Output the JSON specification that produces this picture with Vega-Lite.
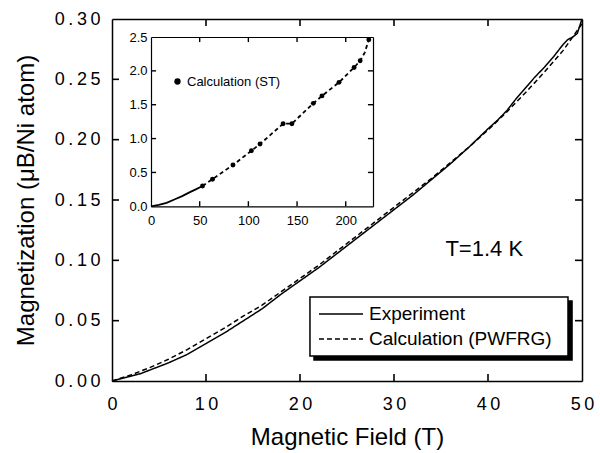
{
  "$schema": "https://vega.github.io/schema/vega-lite/v6.json",
  "width": 470,
  "height": 362,
  "autosize": "none",
  "padding": {"left": 112, "top": 19, "right": 18, "bottom": 72},
  "background": "white",
  "config": {
    "view": {"stroke": null},
    "font": "Liberation Sans",
    "axis": {
      "grid": false,
      "ticks": false,
      "domainColor": "black",
      "labelColor": "black",
      "titleColor": "black",
      "domainWidth": 1.5,
      "labelFont": "Liberation Sans",
      "titleFont": "Liberation Sans",
      "titleFontWeight": "normal",
      "labelFlush": false,
      "labelOverlap": false
    }
  },
  "datasets": {
    "main": [
      {"T": 0, "M": 0, "series": "Experiment"},
      {"T": 1, "M": 0.002, "series": "Experiment"},
      {"T": 2, "M": 0.004, "series": "Experiment"},
      {"T": 3, "M": 0.006, "series": "Experiment"},
      {"T": 4, "M": 0.009, "series": "Experiment"},
      {"T": 5, "M": 0.012, "series": "Experiment"},
      {"T": 6, "M": 0.015, "series": "Experiment"},
      {"T": 8, "M": 0.022, "series": "Experiment"},
      {"T": 10, "M": 0.031, "series": "Experiment"},
      {"T": 12, "M": 0.040, "series": "Experiment"},
      {"T": 14, "M": 0.050, "series": "Experiment"},
      {"T": 16, "M": 0.060, "series": "Experiment"},
      {"T": 18, "M": 0.072, "series": "Experiment"},
      {"T": 20, "M": 0.083, "series": "Experiment"},
      {"T": 22, "M": 0.094, "series": "Experiment"},
      {"T": 24, "M": 0.106, "series": "Experiment"},
      {"T": 26, "M": 0.118, "series": "Experiment"},
      {"T": 28, "M": 0.130, "series": "Experiment"},
      {"T": 30, "M": 0.142, "series": "Experiment"},
      {"T": 32, "M": 0.154, "series": "Experiment"},
      {"T": 34, "M": 0.167, "series": "Experiment"},
      {"T": 36, "M": 0.180, "series": "Experiment"},
      {"T": 38, "M": 0.194, "series": "Experiment"},
      {"T": 40, "M": 0.209, "series": "Experiment"},
      {"T": 41, "M": 0.216, "series": "Experiment"},
      {"T": 42, "M": 0.224, "series": "Experiment"},
      {"T": 43, "M": 0.234, "series": "Experiment"},
      {"T": 44, "M": 0.243, "series": "Experiment"},
      {"T": 45, "M": 0.252, "series": "Experiment"},
      {"T": 46, "M": 0.260, "series": "Experiment"},
      {"T": 47, "M": 0.269, "series": "Experiment"},
      {"T": 48, "M": 0.279, "series": "Experiment"},
      {"T": 48.5, "M": 0.283, "series": "Experiment"},
      {"T": 49, "M": 0.285, "series": "Experiment"},
      {"T": 49.5, "M": 0.288, "series": "Experiment"},
      {"T": 50, "M": 0.300, "series": "Experiment"},
      {"T": 0, "M": 0, "series": "Calculation (PWFRG)"},
      {"T": 2, "M": 0.005, "series": "Calculation (PWFRG)"},
      {"T": 4, "M": 0.011, "series": "Calculation (PWFRG)"},
      {"T": 6, "M": 0.018, "series": "Calculation (PWFRG)"},
      {"T": 8, "M": 0.026, "series": "Calculation (PWFRG)"},
      {"T": 10, "M": 0.035, "series": "Calculation (PWFRG)"},
      {"T": 12, "M": 0.044, "series": "Calculation (PWFRG)"},
      {"T": 14, "M": 0.054, "series": "Calculation (PWFRG)"},
      {"T": 16, "M": 0.063, "series": "Calculation (PWFRG)"},
      {"T": 18, "M": 0.074, "series": "Calculation (PWFRG)"},
      {"T": 20, "M": 0.085, "series": "Calculation (PWFRG)"},
      {"T": 22, "M": 0.096, "series": "Calculation (PWFRG)"},
      {"T": 24, "M": 0.108, "series": "Calculation (PWFRG)"},
      {"T": 26, "M": 0.120, "series": "Calculation (PWFRG)"},
      {"T": 28, "M": 0.132, "series": "Calculation (PWFRG)"},
      {"T": 30, "M": 0.144, "series": "Calculation (PWFRG)"},
      {"T": 32, "M": 0.156, "series": "Calculation (PWFRG)"},
      {"T": 34, "M": 0.168, "series": "Calculation (PWFRG)"},
      {"T": 36, "M": 0.181, "series": "Calculation (PWFRG)"},
      {"T": 38, "M": 0.194, "series": "Calculation (PWFRG)"},
      {"T": 40, "M": 0.208, "series": "Calculation (PWFRG)"},
      {"T": 42, "M": 0.223, "series": "Calculation (PWFRG)"},
      {"T": 44, "M": 0.239, "series": "Calculation (PWFRG)"},
      {"T": 46, "M": 0.256, "series": "Calculation (PWFRG)"},
      {"T": 48, "M": 0.274, "series": "Calculation (PWFRG)"},
      {"T": 50, "M": 0.296, "series": "Calculation (PWFRG)"}
    ],
    "boxes": [
      {"T1": 21.49, "T2": 48.94, "M1": 0.0663, "M2": 0.0174, "kind": "shadow"},
      {"T1": 21.06, "T2": 48.51, "M1": 0.0696, "M2": 0.0207, "kind": "box"}
    ],
    "mainTicks": [
      {"T1": 10, "T2": 10, "M1": 0, "M2": 0.0058},
      {"T1": 20, "T2": 20, "M1": 0, "M2": 0.0058},
      {"T1": 30, "T2": 30, "M1": 0, "M2": 0.0058},
      {"T1": 40, "T2": 40, "M1": 0, "M2": 0.0058},
      {"T1": 10, "T2": 10, "M1": 0.3, "M2": 0.2942},
      {"T1": 20, "T2": 20, "M1": 0.3, "M2": 0.2942},
      {"T1": 30, "T2": 30, "M1": 0.3, "M2": 0.2942},
      {"T1": 40, "T2": 40, "M1": 0.3, "M2": 0.2942},
      {"T1": 0, "T2": 0.745, "M1": 0.05, "M2": 0.05},
      {"T1": 0, "T2": 0.745, "M1": 0.1, "M2": 0.1},
      {"T1": 0, "T2": 0.745, "M1": 0.15, "M2": 0.15},
      {"T1": 0, "T2": 0.745, "M1": 0.2, "M2": 0.2},
      {"T1": 0, "T2": 0.745, "M1": 0.25, "M2": 0.25},
      {"T1": 50, "T2": 49.255, "M1": 0.05, "M2": 0.05},
      {"T1": 50, "T2": 49.255, "M1": 0.1, "M2": 0.1},
      {"T1": 50, "T2": 49.255, "M1": 0.15, "M2": 0.15},
      {"T1": 50, "T2": 49.255, "M1": 0.2, "M2": 0.2},
      {"T1": 50, "T2": 49.255, "M1": 0.25, "M2": 0.25}
    ],
    "insetTicks": [
      {"B1": 50, "B2": 50, "m1": 0, "m2": 0.075},
      {"B1": 100, "B2": 100, "m1": 0, "m2": 0.075},
      {"B1": 150, "B2": 150, "m1": 0, "m2": 0.075},
      {"B1": 200, "B2": 200, "m1": 0, "m2": 0.075},
      {"B1": 50, "B2": 50, "m1": 2.5, "m2": 2.425},
      {"B1": 100, "B2": 100, "m1": 2.5, "m2": 2.425},
      {"B1": 150, "B2": 150, "m1": 2.5, "m2": 2.425},
      {"B1": 200, "B2": 200, "m1": 2.5, "m2": 2.425},
      {"B1": 0, "B2": 5.2, "m1": 0.5, "m2": 0.5},
      {"B1": 0, "B2": 5.2, "m1": 1, "m2": 1},
      {"B1": 0, "B2": 5.2, "m1": 1.5, "m2": 1.5},
      {"B1": 0, "B2": 5.2, "m1": 2, "m2": 2},
      {"B1": 228, "B2": 222.8, "m1": 0.5, "m2": 0.5},
      {"B1": 228, "B2": 222.8, "m1": 1, "m2": 1},
      {"B1": 228, "B2": 222.8, "m1": 1.5, "m2": 1.5},
      {"B1": 228, "B2": 222.8, "m1": 2, "m2": 2}
    ],
    "insetSolid": [
      {"B": 0, "m": 0},
      {"B": 8, "m": 0.02},
      {"B": 16, "m": 0.05},
      {"B": 24, "m": 0.1},
      {"B": 32, "m": 0.15},
      {"B": 40, "m": 0.21},
      {"B": 46, "m": 0.25},
      {"B": 52.9, "m": 0.3}
    ],
    "insetDash": [
      {"B": 52.9, "m": 0.3},
      {"B": 63.2, "m": 0.4},
      {"B": 84.2, "m": 0.61},
      {"B": 103.1, "m": 0.82},
      {"B": 112.0, "m": 0.92},
      {"B": 135.7, "m": 1.22},
      {"B": 144.7, "m": 1.22},
      {"B": 166.7, "m": 1.52},
      {"B": 175.6, "m": 1.63},
      {"B": 193.1, "m": 1.83},
      {"B": 208.6, "m": 2.05},
      {"B": 214.8, "m": 2.15},
      {"B": 219.5, "m": 2.27},
      {"B": 223.7, "m": 2.46}
    ],
    "insetPts": [
      {"B": 52.9, "m": 0.3, "label": "Calculation (ST)"},
      {"B": 63.2, "m": 0.4, "label": "Calculation (ST)"},
      {"B": 84.2, "m": 0.61, "label": "Calculation (ST)"},
      {"B": 103.1, "m": 0.82, "label": "Calculation (ST)"},
      {"B": 112.0, "m": 0.92, "label": "Calculation (ST)"},
      {"B": 135.7, "m": 1.22, "label": "Calculation (ST)"},
      {"B": 144.7, "m": 1.22, "label": "Calculation (ST)"},
      {"B": 166.7, "m": 1.52, "label": "Calculation (ST)"},
      {"B": 175.6, "m": 1.63, "label": "Calculation (ST)"},
      {"B": 193.1, "m": 1.83, "label": "Calculation (ST)"},
      {"B": 208.6, "m": 2.05, "label": "Calculation (ST)"},
      {"B": 214.8, "m": 2.15, "label": "Calculation (ST)"},
      {"B": 223.7, "m": 2.46, "label": "Calculation (ST)"}
    ],
    "notes": [
      {"T": 39.6, "M": 0.109, "text": "T=1.4 K"}
    ]
  },
  "layer": [
    {
      "data": {"name": "boxes"},
      "mark": {"type": "rect", "strokeWidth": 1.5},
      "encoding": {
        "x": {"field": "T1", "type": "quantitative", "scale": {"domain": [0, 50], "nice": false}, "axis": null},
        "x2": {"field": "T2"},
        "y": {"field": "M1", "type": "quantitative", "scale": {"domain": [0, 0.3], "nice": false}, "axis": null},
        "y2": {"field": "M2"},
        "fill": {"field": "kind", "type": "nominal", "scale": {"domain": ["shadow", "box"], "range": ["black", "white"]}, "legend": null},
        "stroke": {"value": "black"}
      }
    },
    {
      "data": {"name": "main"},
      "mark": {"type": "line", "color": "black", "strokeWidth": 1.5},
      "encoding": {
        "x": {
          "field": "T", "type": "quantitative",
          "scale": {"domain": [0, 50], "nice": false},
          "axis": {
            "orient": "bottom", "values": [0, 10, 20, 30, 40, 50], "tickSize": 0,
            "labelFontSize": 18, "labelPadding": 14,
            "labelExpr": "join(split(datum.label, ''), '\u2009')",
            "title": "Magnetic Field (T)", "titleFontSize": 24, "titlePadding": 12
          }
        },
        "y": {
          "field": "M", "type": "quantitative",
          "scale": {"domain": [0, 0.3], "nice": false},
          "axis": {
            "orient": "left", "values": [0, 0.05, 0.1, 0.15, 0.2, 0.25, 0.3], "format": ".2f", "tickSize": 0,
            "labelFontSize": 18, "labelPadding": 12,
            "labelExpr": "join(split(datum.label, ''), '\u2009')",
            "title": "Magnetization (μB/Ni atom)", "titleFontSize": 24, "titlePadding": 16
          }
        },
        "strokeDash": {
          "field": "series", "type": "nominal",
          "scale": {"domain": ["Experiment", "Calculation (PWFRG)"], "range": [[1, 0], [5, 3]]},
          "legend": {
            "orient": "none", "legendX": 218, "legendY": 284, "title": null,
            "symbolType": "M-2.2,0H2.2", "symbolSize": 400, "symbolStrokeWidth": 1.5,
            "symbolStrokeColor": "black", "symbolFillColor": "transparent",
            "labelFontSize": 19, "labelFont": "Liberation Sans", "labelColor": "black",
            "labelOffset": 17, "labelLimit": 0, "rowPadding": 4, "padding": 0
          }
        }
      }
    },
    {
      "data": {"name": "main"},
      "mark": {"type": "line", "opacity": 0},
      "encoding": {
        "detail": {"field": "series"},
        "x": {
          "field": "T", "type": "quantitative",
          "scale": {"domain": [0, 50], "nice": false},
          "axis": {"orient": "bottom", "offset": -362, "labels": false, "title": null}
        },
        "y": {
          "field": "M", "type": "quantitative",
          "scale": {"domain": [0, 0.3], "nice": false},
          "axis": {"orient": "left", "offset": -470, "labels": false, "title": null}
        }
      }
    },
    {
      "encoding": {
        "x": {
          "field": "B", "type": "quantitative",
          "scale": {"domain": [0, 228], "nice": false, "range": [39, 261]},
          "axis": {
            "orient": "bottom", "offset": -174.7, "values": [0, 50, 100, 150, 200], "tickSize": 0,
            "labelFontSize": 13, "labelPadding": 8, "title": null, "domainWidth": 1.2
          }
        },
        "y": {
          "field": "m", "type": "quantitative",
          "scale": {"domain": [0, 2.5], "nice": false, "range": [187.3, 18]},
          "axis": {
            "orient": "left", "offset": -39, "values": [0, 0.5, 1, 1.5, 2, 2.5], "format": ".1f", "tickSize": 0,
            "labelFontSize": 13, "labelPadding": 4, "title": null, "domainWidth": 1.2
          }
        }
      },
      "layer": [
        {"data": {"name": "insetSolid"}, "mark": {"type": "line", "color": "black", "strokeWidth": 1.8}},
        {"data": {"name": "insetDash"}, "mark": {"type": "line", "color": "black", "strokeWidth": 1.8, "strokeDash": [4, 3]}},
        {
          "data": {"name": "insetPts"},
          "mark": {"type": "point", "filled": true, "color": "black", "opacity": 1, "size": 24},
          "encoding": {
            "shape": {
              "field": "label", "type": "nominal",
              "scale": {"domain": ["Calculation (ST)"], "range": ["circle"]},
              "legend": {
                "orient": "none", "legendX": 59, "legendY": 56, "title": null, "padding": 0,
                "symbolSize": 40, "symbolFillColor": "black", "symbolStrokeColor": "black",
                "labelFontSize": 13, "labelFont": "Liberation Sans", "labelColor": "black", "labelOffset": 3, "labelLimit": 0
              }
            }
          }
        }
      ]
    },
    {
      "data": {"name": "insetPts"},
      "mark": {"type": "point", "opacity": 0},
      "encoding": {
        "x": {
          "field": "B", "type": "quantitative",
          "scale": {"domain": [0, 228], "nice": false, "range": [39, 261]},
          "axis": {"orient": "bottom", "offset": -344, "labels": false, "title": null, "domainWidth": 1.2}
        },
        "y": {
          "field": "m", "type": "quantitative",
          "scale": {"domain": [0, 2.5], "nice": false, "range": [187.3, 18]},
          "axis": {"orient": "left", "offset": -261, "labels": false, "title": null, "domainWidth": 1.2}
        }
      }
    },
    {
      "data": {"name": "mainTicks"},
      "mark": {"type": "rule", "color": "black", "strokeWidth": 1.6},
      "encoding": {
        "x": {"field": "T1", "type": "quantitative", "scale": {"domain": [0, 50], "nice": false}, "axis": null},
        "x2": {"field": "T2"},
        "y": {"field": "M1", "type": "quantitative", "scale": {"domain": [0, 0.3], "nice": false}, "axis": null},
        "y2": {"field": "M2"}
      }
    },
    {
      "data": {"name": "insetTicks"},
      "mark": {"type": "rule", "color": "black", "strokeWidth": 1.4},
      "encoding": {
        "x": {"field": "B1", "type": "quantitative", "scale": {"domain": [0, 228], "nice": false, "range": [39, 261]}, "axis": null},
        "x2": {"field": "B2"},
        "y": {"field": "m1", "type": "quantitative", "scale": {"domain": [0, 2.5], "nice": false, "range": [187.3, 18]}, "axis": null},
        "y2": {"field": "m2"}
      }
    },
    {
      "data": {"name": "notes"},
      "mark": {"type": "text", "fontSize": 22, "font": "Liberation Sans", "color": "black", "align": "center", "baseline": "middle"},
      "encoding": {
        "x": {"field": "T", "type": "quantitative", "scale": {"domain": [0, 50], "nice": false}, "axis": null},
        "y": {"field": "M", "type": "quantitative", "scale": {"domain": [0, 0.3], "nice": false}, "axis": null},
        "text": {"field": "text"}
      }
    }
  ],
  "resolve": {
    "scale": {"x": "independent", "y": "independent"},
    "axis": {"x": "independent", "y": "independent"}
  }
}
